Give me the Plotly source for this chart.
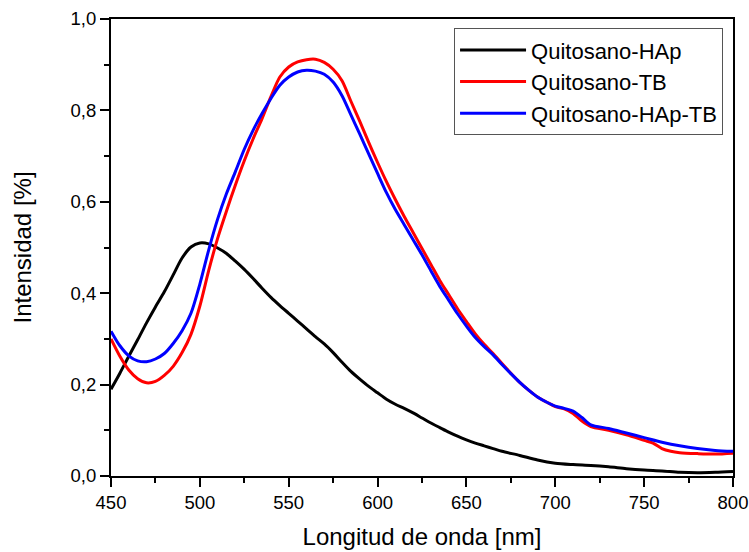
import plotly.graph_objects as go

# Quitosano-HAp
wl_hap = [450, 455, 460, 465, 470, 475, 480, 485, 490, 495, 500, 505, 510, 515, 520, 525, 530,
          535, 540, 545, 550, 555, 560, 565, 570, 575, 580, 585, 590, 595, 600, 605, 610, 615,
          620, 625, 630, 635, 640, 645, 650, 655, 660, 665, 670, 680, 690, 700, 710, 720, 730,
          740, 750, 760, 770, 780, 790, 800]
hap = [0.19, 0.225, 0.262, 0.298, 0.335, 0.37, 0.403, 0.44, 0.477, 0.501, 0.51, 0.508, 0.499,
       0.487, 0.47, 0.452, 0.432, 0.411, 0.391, 0.373, 0.356, 0.339, 0.322, 0.305, 0.289, 0.27,
       0.249, 0.229, 0.212, 0.196, 0.182, 0.168, 0.157, 0.148, 0.138, 0.127, 0.116, 0.106, 0.096,
       0.087, 0.079, 0.072, 0.066, 0.06, 0.054, 0.045, 0.035, 0.028, 0.025, 0.023, 0.02, 0.016,
       0.013, 0.011, 0.008, 0.007, 0.008, 0.01]

# Quitosano-TB
wl_tb = [450, 455, 460, 465, 470, 475, 480, 485, 490, 495, 500, 505, 510, 515, 520, 525, 530,
         535, 540, 545, 550, 555, 560, 565, 570, 575, 580, 585, 590, 595, 600, 605, 610, 615,
         620, 625, 630, 635, 640, 645, 650, 655, 660, 665, 670, 675, 680, 685, 690, 695, 700,
         705, 710, 715, 720, 730, 740, 750, 755, 760, 765, 770, 780, 790, 800]
tb = [0.30, 0.262, 0.232, 0.213, 0.204, 0.207, 0.22, 0.24, 0.27, 0.31, 0.372, 0.45, 0.52, 0.58,
      0.637, 0.69, 0.738, 0.782, 0.83, 0.873, 0.895, 0.906, 0.911, 0.912, 0.905, 0.89, 0.865,
      0.82, 0.776, 0.73, 0.686, 0.644, 0.605, 0.568, 0.533, 0.498, 0.463, 0.428, 0.397, 0.366,
      0.338, 0.311, 0.288, 0.268, 0.246, 0.225, 0.205, 0.188, 0.173, 0.162, 0.152, 0.147, 0.137,
      0.12, 0.108, 0.10, 0.09, 0.078, 0.072, 0.06, 0.054, 0.051, 0.049, 0.048, 0.05]

# Quitosano-HAp-TB
wl_haptb = [450, 455, 460, 465, 470, 475, 480, 485, 490, 495, 500, 505, 510, 515, 520, 525, 530,
            535, 540, 545, 550, 555, 560, 565, 570, 575, 580, 585, 590, 595, 600, 605, 610, 615,
            620, 625, 630, 635, 640, 645, 650, 655, 660, 665, 670, 675, 680, 685, 690, 695, 700,
            705, 710, 715, 720, 730, 740, 750, 760, 770, 780, 790, 800]
hap_tb = [0.317, 0.285, 0.263, 0.252, 0.25, 0.256, 0.268, 0.29, 0.318, 0.356, 0.42, 0.495, 0.562,
          0.618, 0.666, 0.715, 0.757, 0.793, 0.826, 0.855, 0.873, 0.884, 0.888, 0.886, 0.879,
          0.862, 0.832, 0.79, 0.748, 0.705, 0.662, 0.62, 0.583, 0.55, 0.517, 0.484, 0.449, 0.415,
          0.385, 0.355, 0.328, 0.303, 0.283, 0.265, 0.244, 0.224, 0.205, 0.188, 0.173, 0.162,
          0.153, 0.148, 0.142, 0.128, 0.112, 0.104, 0.094, 0.084, 0.074, 0.066, 0.06, 0.056, 0.054]

names = ["Quitosano-HAp", "Quitosano-TB", "Quitosano-HAp-TB"]
colors = ["#000000", "#ff0000", "#0000ff"]

FONT = "Liberation Sans, Arial, sans-serif"

fig = go.Figure()
for x, y, n, c in zip([wl_hap, wl_tb, wl_haptb], [hap, tb, hap_tb], names, colors):
    fig.add_trace(go.Scatter(x=x, y=y, mode="lines", name=n,
                             line=dict(color=c, width=3, shape="spline", smoothing=0.8)))

axis_common = dict(showline=True, linecolor="black", linewidth=2, mirror=True,
                   ticks="outside", ticklen=9, tickwidth=2, tickcolor="black",
                   showgrid=False, zeroline=False, automargin=False,
                   tickfont=dict(family=FONT, size=18.5, color="black"))

fig.update_xaxes(range=[450, 800], dtick=50, tick0=450,
                 minor=dict(ticks="outside", ticklen=5, tickwidth=2, tickcolor="black", dtick=25),
                 title=dict(text="Longitud de onda [nm]", standoff=16,
                            font=dict(family=FONT, size=24, color="black")),
                 **axis_common)
fig.update_yaxes(range=[0, 1.0], dtick=0.2, tickformat=".1f",
                 minor=dict(ticks="outside", ticklen=5, tickwidth=2, tickcolor="black", dtick=0.1),
                 title=dict(text="Intensidad [%]", standoff=32,
                            font=dict(family=FONT, size=24, color="black")),
                 **axis_common)

fig.update_layout(
    width=749, height=552,
    margin=dict(l=111, r=16, t=19, b=76),
    plot_bgcolor="white", paper_bgcolor="white",
    separators=",.",
    showlegend=True,
    legend=dict(x=0.984, y=0.98, xanchor="right", yanchor="top",
                bordercolor="#555555", borderwidth=1, bgcolor="white",
                font=dict(family=FONT, size=22, color="black"),
                tracegroupgap=0, itemwidth=66),
)

fig.write_html("out.html")
